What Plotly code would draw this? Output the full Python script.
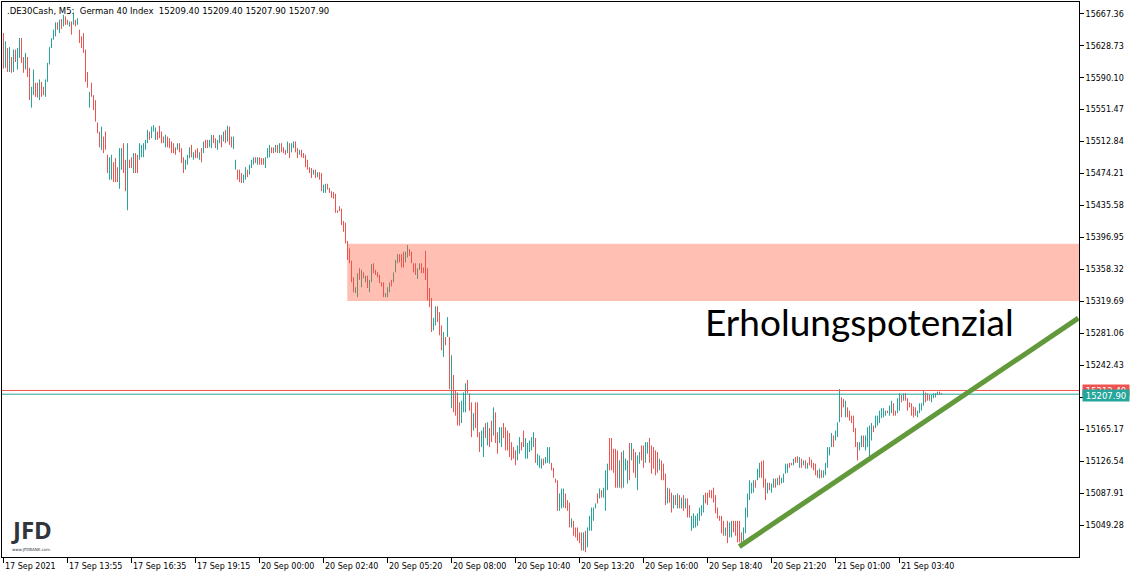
import plotly.graph_objects as go

# ---- data (5-minute bars) ----
highs = [
    15644, 15634, 15626, 15627, 15615, 15624, 15624, 15626, 15638, 15638,
    15615, 15620, 15615, 15602, 15579, 15600, 15584, 15584, 15588, 15585,
    15579, 15588, 15608, 15627, 15638, 15648, 15657, 15657, 15660, 15661,
    15666, 15664, 15660, 15658, 15658, 15669, 15660, 15662, 15648, 15640,
    15644, 15624, 15597, 15573, 15584, 15569, 15563, 15536, 15525, 15531,
    15519, 15525, 15497, 15494, 15497, 15488, 15493, 15482, 15505, 15505,
    15511, 15491, 15511, 15491, 15494, 15499, 15499, 15497, 15511, 15509,
    15511, 15515, 15527, 15525, 15531, 15533, 15530, 15525, 15532, 15525,
    15519, 15521, 15519, 15517, 15513, 15511, 15506, 15511, 15511, 15505,
    15494, 15491, 15497, 15506, 15509, 15500, 15503, 15505, 15500, 15505,
    15513, 15515, 15515, 15515, 15521, 15521, 15517, 15515, 15521, 15521,
    15525, 15527, 15532, 15531, 15519, 15519, 15491, 15479, 15479, 15475,
    15473, 15482, 15479, 15485, 15491, 15494, 15494, 15494, 15494, 15493,
    15493, 15494, 15505, 15509, 15506, 15506, 15509, 15509, 15511, 15511,
    15506, 15503, 15513, 15511, 15511, 15513, 15513, 15505, 15503, 15503,
    15499, 15497, 15491, 15482, 15481, 15479, 15479, 15476, 15476, 15475,
    15461, 15462, 15462, 15457, 15453, 15452, 15450, 15430, 15435, 15432,
    15417, 15415, 15393, 15384, 15369, 15349, 15337, 15354, 15360, 15358,
    15355, 15351, 15351, 15346, 15365, 15366, 15358, 15355, 15352, 15343,
    15343, 15330, 15337, 15343, 15346, 15355, 15370, 15377, 15377, 15377,
    15380, 15380, 15388, 15383, 15380, 15366, 15366, 15360, 15366, 15366,
    15361, 15381, 15360, 15336, 15324, 15300, 15314, 15314, 15307, 15291,
    15283, 15277, 15301, 15277, 15255, 15231, 15213, 15210, 15198, 15200,
    15210, 15221, 15225, 15209, 15198, 15185, 15198, 15198, 15162, 15164,
    15168, 15173, 15174, 15167, 15176, 15192, 15186, 15162, 15168, 15168,
    15173, 15168, 15164, 15161, 15150, 15144, 15140, 15146, 15156, 15150,
    15164, 15155, 15149, 15152, 15156, 15162, 15155, 15136, 15134, 15130,
    15130, 15132, 15144, 15144, 15125, 15119, 15106, 15104, 15088, 15094,
    15094, 15088, 15080, 15077, 15058, 15055, 15047, 15047, 15041, 15041,
    15041, 15043, 15047, 15061, 15071, 15071, 15076, 15088, 15094, 15092,
    15095, 15116, 15124, 15155, 15155, 15142, 15142, 15140, 15128, 15138,
    15140, 15130, 15128, 15149, 15149, 15142, 15138, 15134, 15138, 15146,
    15146, 15150, 15150, 15155, 15146, 15144, 15140, 15138, 15130, 15128,
    15124, 15112, 15095, 15094, 15089, 15086, 15086, 15088, 15086, 15083,
    15086, 15082, 15082, 15074, 15061, 15064, 15061, 15064, 15071, 15074,
    15086, 15089, 15089, 15092, 15092, 15095, 15086, 15071, 15061, 15061,
    15055, 15047, 15055, 15053, 15055, 15055, 15055, 15055, 15055, 15041,
    15047, 15071, 15088, 15104, 15101, 15104, 15104, 15118, 15125, 15127,
    15128, 15106, 15101, 15101, 15100, 15106, 15106, 15107, 15110, 15107,
    15112, 15124, 15124, 15125, 15125, 15130, 15132, 15133, 15132, 15130,
    15128, 15128, 15125, 15132, 15129, 15125, 15124, 15116, 15118, 15116,
    15116, 15125, 15144, 15144, 15161, 15158, 15164, 15174, 15214, 15204,
    15202, 15200, 15192, 15188, 15182, 15182, 15167, 15150, 15150, 15158,
    15158, 15158, 15168, 15170, 15173, 15170, 15182, 15182, 15188, 15191,
    15191, 15188, 15188, 15194, 15200, 15197, 15188, 15203, 15209, 15207,
    15209, 15209, 15203, 15198, 15197, 15193, 15192, 15188, 15197, 15197,
    15212, 15210, 15209, 15207, 15207, 15209, 15209, 15211, 15211, 15209.4,
]

lows = [
    15601, 15602, 15597, 15597, 15596, 15597, 15609, 15600, 15614, 15608,
    15596, 15600, 15591, 15563, 15554, 15569, 15567, 15566, 15563, 15567,
    15569, 15567, 15585, 15606, 15626, 15636, 15640, 15648, 15644, 15649,
    15652, 15654, 15654, 15652, 15642, 15654, 15652, 15654, 15632, 15626,
    15620, 15585, 15578, 15554, 15567, 15551, 15537, 15523, 15506, 15503,
    15499, 15503, 15475, 15467, 15467, 15464, 15464, 15464, 15456, 15479,
    15475, 15453, 15430, 15481, 15481, 15475, 15475, 15475, 15491, 15494,
    15494, 15503, 15511, 15515, 15517, 15525, 15515, 15515, 15517, 15511,
    15511, 15506, 15506, 15505, 15499, 15499, 15497, 15503, 15500, 15487,
    15475, 15479, 15485, 15493, 15494, 15491, 15493, 15493, 15491, 15488,
    15499, 15505, 15505, 15506, 15505, 15511, 15505, 15503, 15511, 15506,
    15513, 15511, 15513, 15509, 15506, 15504, 15479, 15467, 15464, 15463,
    15463, 15467, 15470, 15473, 15481, 15485, 15487, 15485, 15485, 15485,
    15485, 15481, 15493, 15494, 15499, 15499, 15500, 15499, 15499, 15500,
    15499, 15497, 15499, 15493, 15500, 15505, 15500, 15493, 15497, 15494,
    15493, 15482, 15479, 15475, 15469, 15473, 15469, 15470, 15467, 15453,
    15451, 15451, 15455, 15451, 15445, 15444, 15427, 15427, 15429, 15412,
    15404, 15390, 15370, 15366, 15343, 15331, 15330, 15325, 15346, 15337,
    15348, 15343, 15336, 15331, 15343, 15354, 15352, 15349, 15342, 15338,
    15325, 15325, 15325, 15331, 15338, 15343, 15355, 15366, 15367, 15361,
    15361, 15367, 15373, 15375, 15366, 15355, 15352, 15347, 15358, 15354,
    15354, 15346, 15321, 15313, 15283, 15285, 15291, 15295, 15279, 15261,
    15253, 15267, 15277, 15214, 15191, 15186, 15182, 15170, 15170, 15173,
    15186, 15186, 15209, 15188, 15156, 15164, 15167, 15156, 15138, 15144,
    15132, 15155, 15146, 15144, 15150, 15158, 15149, 15136, 15149, 15144,
    15155, 15140, 15140, 15132, 15128, 15130, 15122, 15128, 15136, 15140,
    15144, 15130, 15130, 15138, 15140, 15144, 15125, 15122, 15119, 15118,
    15122, 15124, 15125, 15124, 15116, 15107, 15101, 15067, 15067, 15070,
    15071, 15070, 15067, 15047, 15047, 15037, 15035, 15031, 15028, 15019,
    15019, 15017, 15023, 15043, 15043, 15055, 15070, 15076, 15082, 15083,
    15083, 15067, 15092, 15116, 15116, 15113, 15095, 15095, 15095, 15094,
    15095, 15116, 15100, 15104, 15128, 15113, 15107, 15092, 15124, 15128,
    15119, 15125, 15136, 15125, 15112, 15118, 15110, 15113, 15116, 15104,
    15104, 15074, 15076, 15077, 15065, 15070, 15074, 15070, 15070, 15070,
    15067, 15070, 15059, 15059, 15043, 15046, 15047, 15049, 15055, 15061,
    15065, 15076, 15074, 15083, 15082, 15077, 15064, 15058, 15055, 15040,
    15037, 15037, 15028, 15035, 15035, 15041, 15037, 15029, 15029, 15029,
    15031, 15040, 15059, 15080, 15088, 15089, 15095, 15104, 15107, 15107,
    15095, 15080, 15088, 15092, 15089, 15095, 15095, 15098, 15098, 15100,
    15101, 15112, 15113, 15119, 15122, 15122, 15125, 15125, 15119, 15119,
    15122, 15118, 15118, 15122, 15119, 15116, 15110, 15107, 15106, 15107,
    15107, 15110, 15119, 15134, 15144, 15144, 15152, 15156, 15174, 15180,
    15192, 15180, 15180, 15176, 15173, 15162, 15144, 15128, 15140, 15144,
    15144, 15140, 15144, 15132, 15152, 15162, 15167, 15170, 15173, 15179,
    15180, 15182, 15185, 15182, 15185, 15182, 15182, 15185, 15188, 15198,
    15200, 15200, 15188, 15192, 15182, 15180, 15182, 15180, 15185, 15188,
    15194, 15198, 15200, 15200, 15198, 15203, 15204, 15207, 15207, 15207.9,
]

# u = bullish bar (teal), d = bearish bar (red)
directions = (
    "dudududuud" "dudduuddud" "duuuuuudud" "uddudududd" "dddudddddu"
    "ddduuddduu" "dduddudduu" "uuuduuuddd" "dudddddudd" "duuududdud"
    "udduudduud" "ududduuddd" "uuduuududd" "duuuddudud" "dduduuddud"
    "dddddududd" "uudddddddd" "dddddduudu" "duduuddddd" "duuuduuudd"
    "duudddduud" "ddddduuddd" "udududdddu" "uudddudddu" "ududdudduu"
    "ddddddduud" "duuuuuduuu" "duuudddduu" "uddduddddd" "uduuuuudud"
    "uuudddddud" "uuududduud" "duudddddud" "dduddududu" "dudduuuuuu"
    "uddddddddd" "duduuddddd" "uuuuuuduud" "dduduududu" "uuudduddud"
    "ududddddud" "uuuuuduuud" "dudddddduu" "duuuuduuuu" "uuduudduud"
    "udddddduuu" "uddduuuudd"
)

x_tick_bars = [0, 32, 64, 96, 128, 160, 192, 224, 256, 288, 320, 352, 384, 416, 448]
x_tick_labels = [
    "17 Sep 2021", "17 Sep 13:55", "17 Sep 16:35", "17 Sep 19:15",
    "20 Sep 00:00", "20 Sep 02:40", "20 Sep 05:20", "20 Sep 08:00",
    "20 Sep 10:40", "20 Sep 13:20", "20 Sep 16:00", "20 Sep 18:40",
    "20 Sep 21:20", "21 Sep 01:00", "21 Sep 03:40",
]
y_tick_values = [
    15667.36, 15628.73, 15590.10, 15551.47, 15512.84, 15474.21, 15435.58,
    15396.95, 15358.32, 15319.69, 15281.06, 15242.43, 15203.80, 15165.17,
    15126.54, 15087.91, 15049.28,
]
y_tick_labels = ["%.2f" % v for v in y_tick_values]

header_text = ".DE30Cash, M5:\u00a0 German 40 Index\u00a0 15209.40 15209.40 15207.90 15207.90"
ask_price = 15212.40
bid_price = 15207.90
zone_low, zone_high = 15320.5, 15389.5
zone_start_bar = 171.9
trend_start = (367.9, 15023.9)
trend_end = (537.4, 15299.7)
annotation_text = "Erholungspotenzial"

# ---- styles ----
RED = "#EF5350"
TEAL = "#26A69A"
OLIVE = "#778A6C"
ZONE = "#FFBFB3"
TREND = "#62993A"
AXFONT = dict(family="DejaVu Sans", size=8, color="black")

n = min(len(highs), len(lows), len(directions))

# group bars by colour; each bar is a vertical segment from low to high
groups = {TEAL: ([], []), RED: ([], []), OLIVE: ([], [])}
for i in range(n):
    if directions[i] == "u":
        in_zone = i >= zone_start_bar and lows[i] < zone_high and highs[i] > zone_low
        col = OLIVE if in_zone else TEAL
    else:
        col = RED
    gx, gy = groups[col]
    gx.extend([i, i, None])
    gy.extend([lows[i], highs[i], None])

fig = go.Figure()
for col, (gx, gy) in groups.items():
    fig.add_trace(go.Scatter(
        x=gx, y=gy, mode="lines", line=dict(color=col, width=1),
        hoverinfo="skip", showlegend=False, connectgaps=False,
    ))

x_range = [-0.75, 537.75]
y_range = [15011.3, 15681.5]

shapes = [
    dict(type="rect", xref="x", yref="y", x0=zone_start_bar, x1=x_range[1],
         y0=zone_low, y1=zone_high, fillcolor=ZONE, line=dict(width=0), layer="below"),
    dict(type="line", xref="x domain", yref="y", x0=0, x1=1, y0=ask_price, y1=ask_price,
         line=dict(color=RED, width=1)),
    dict(type="line", xref="x domain", yref="y", x0=0, x1=1, y0=bid_price, y1=bid_price,
         line=dict(color=TEAL, width=1)),
    dict(type="line", xref="x", yref="y", x0=trend_start[0], y0=trend_start[1],
         x1=trend_end[0], y1=trend_end[1], line=dict(color=TREND, width=5)),
]

annotations = []
for xv, lab in zip(x_tick_bars, x_tick_labels):
    annotations.append(dict(x=xv, xref="x", y=0, yref="paper", text=lab, showarrow=False,
                            xanchor="left", yanchor="top", xshift=-1, yshift=-3, font=AXFONT))
annotations.append(dict(x=0, xref="x domain", y=1, yref="y domain", text=header_text,
                        showarrow=False, xanchor="left", yanchor="top", xshift=3, yshift=-2,
                        font=dict(family="DejaVu Sans", size=8.5, color="black")))
annotations.append(dict(x=1, xref="x domain", y=ask_price, yref="y",
                        text="%.2f" % ask_price, showarrow=False, xanchor="left",
                        yanchor="middle", xshift=3, bgcolor=RED, width=46, height=11,
                        borderpad=0, font=dict(family="DejaVu Sans", size=8.5, color="white")))
annotations.append(dict(x=1, xref="x domain", y=bid_price, yref="y",
                        text="%.2f" % bid_price, showarrow=False, xanchor="left",
                        yanchor="middle", xshift=3, yshift=-1, bgcolor=TEAL, width=46, height=11,
                        borderpad=0, font=dict(family="DejaVu Sans", size=8.5, color="white")))
annotations.append(dict(x=0.651, xref="x domain", y=15296, yref="y", text=annotation_text,
                        showarrow=False, xanchor="left", yanchor="middle",
                        font=dict(family="Lato", size=37, color="black")))
annotations.append(dict(x=0, xref="x domain", y=0, yref="y domain", text="<b>JFD</b>",
                        showarrow=False, xanchor="left", yanchor="bottom", xshift=7, yshift=9,
                        font=dict(family="Open Sans", size=24, color="#30363C")))
annotations.append(dict(x=0, xref="x domain", y=0, yref="y domain", text="www.JFDBANK.com",
                        showarrow=False, xanchor="left", yanchor="bottom", xshift=8, yshift=3,
                        font=dict(family="DejaVu Sans", size=4, color="#30363C")))

fig.update_layout(
    width=1137, height=578,
    margin=dict(l=2, r=58, t=2, b=21),
    paper_bgcolor="white", plot_bgcolor="white",
    showlegend=False,
    shapes=shapes,
    annotations=annotations,
    xaxis=dict(range=x_range, showgrid=False, zeroline=False, showline=True, linecolor="black",
               linewidth=1, mirror=True, ticks="outside", ticklen=5, tickcolor="black",
               tickvals=x_tick_bars, showticklabels=False, fixedrange=True),
    yaxis=dict(range=y_range, side="right", showgrid=False, zeroline=False, showline=True,
               linecolor="black", linewidth=1, mirror=True, ticks="outside", ticklen=4,
               tickcolor="black", tickvals=y_tick_values, ticktext=y_tick_labels,
               tickfont=AXFONT, fixedrange=True),
)

fig.write_html("out.html", config={"displayModeBar": False},
               post_script="document.body.style.margin='0';document.body.style.overflow='hidden';")
